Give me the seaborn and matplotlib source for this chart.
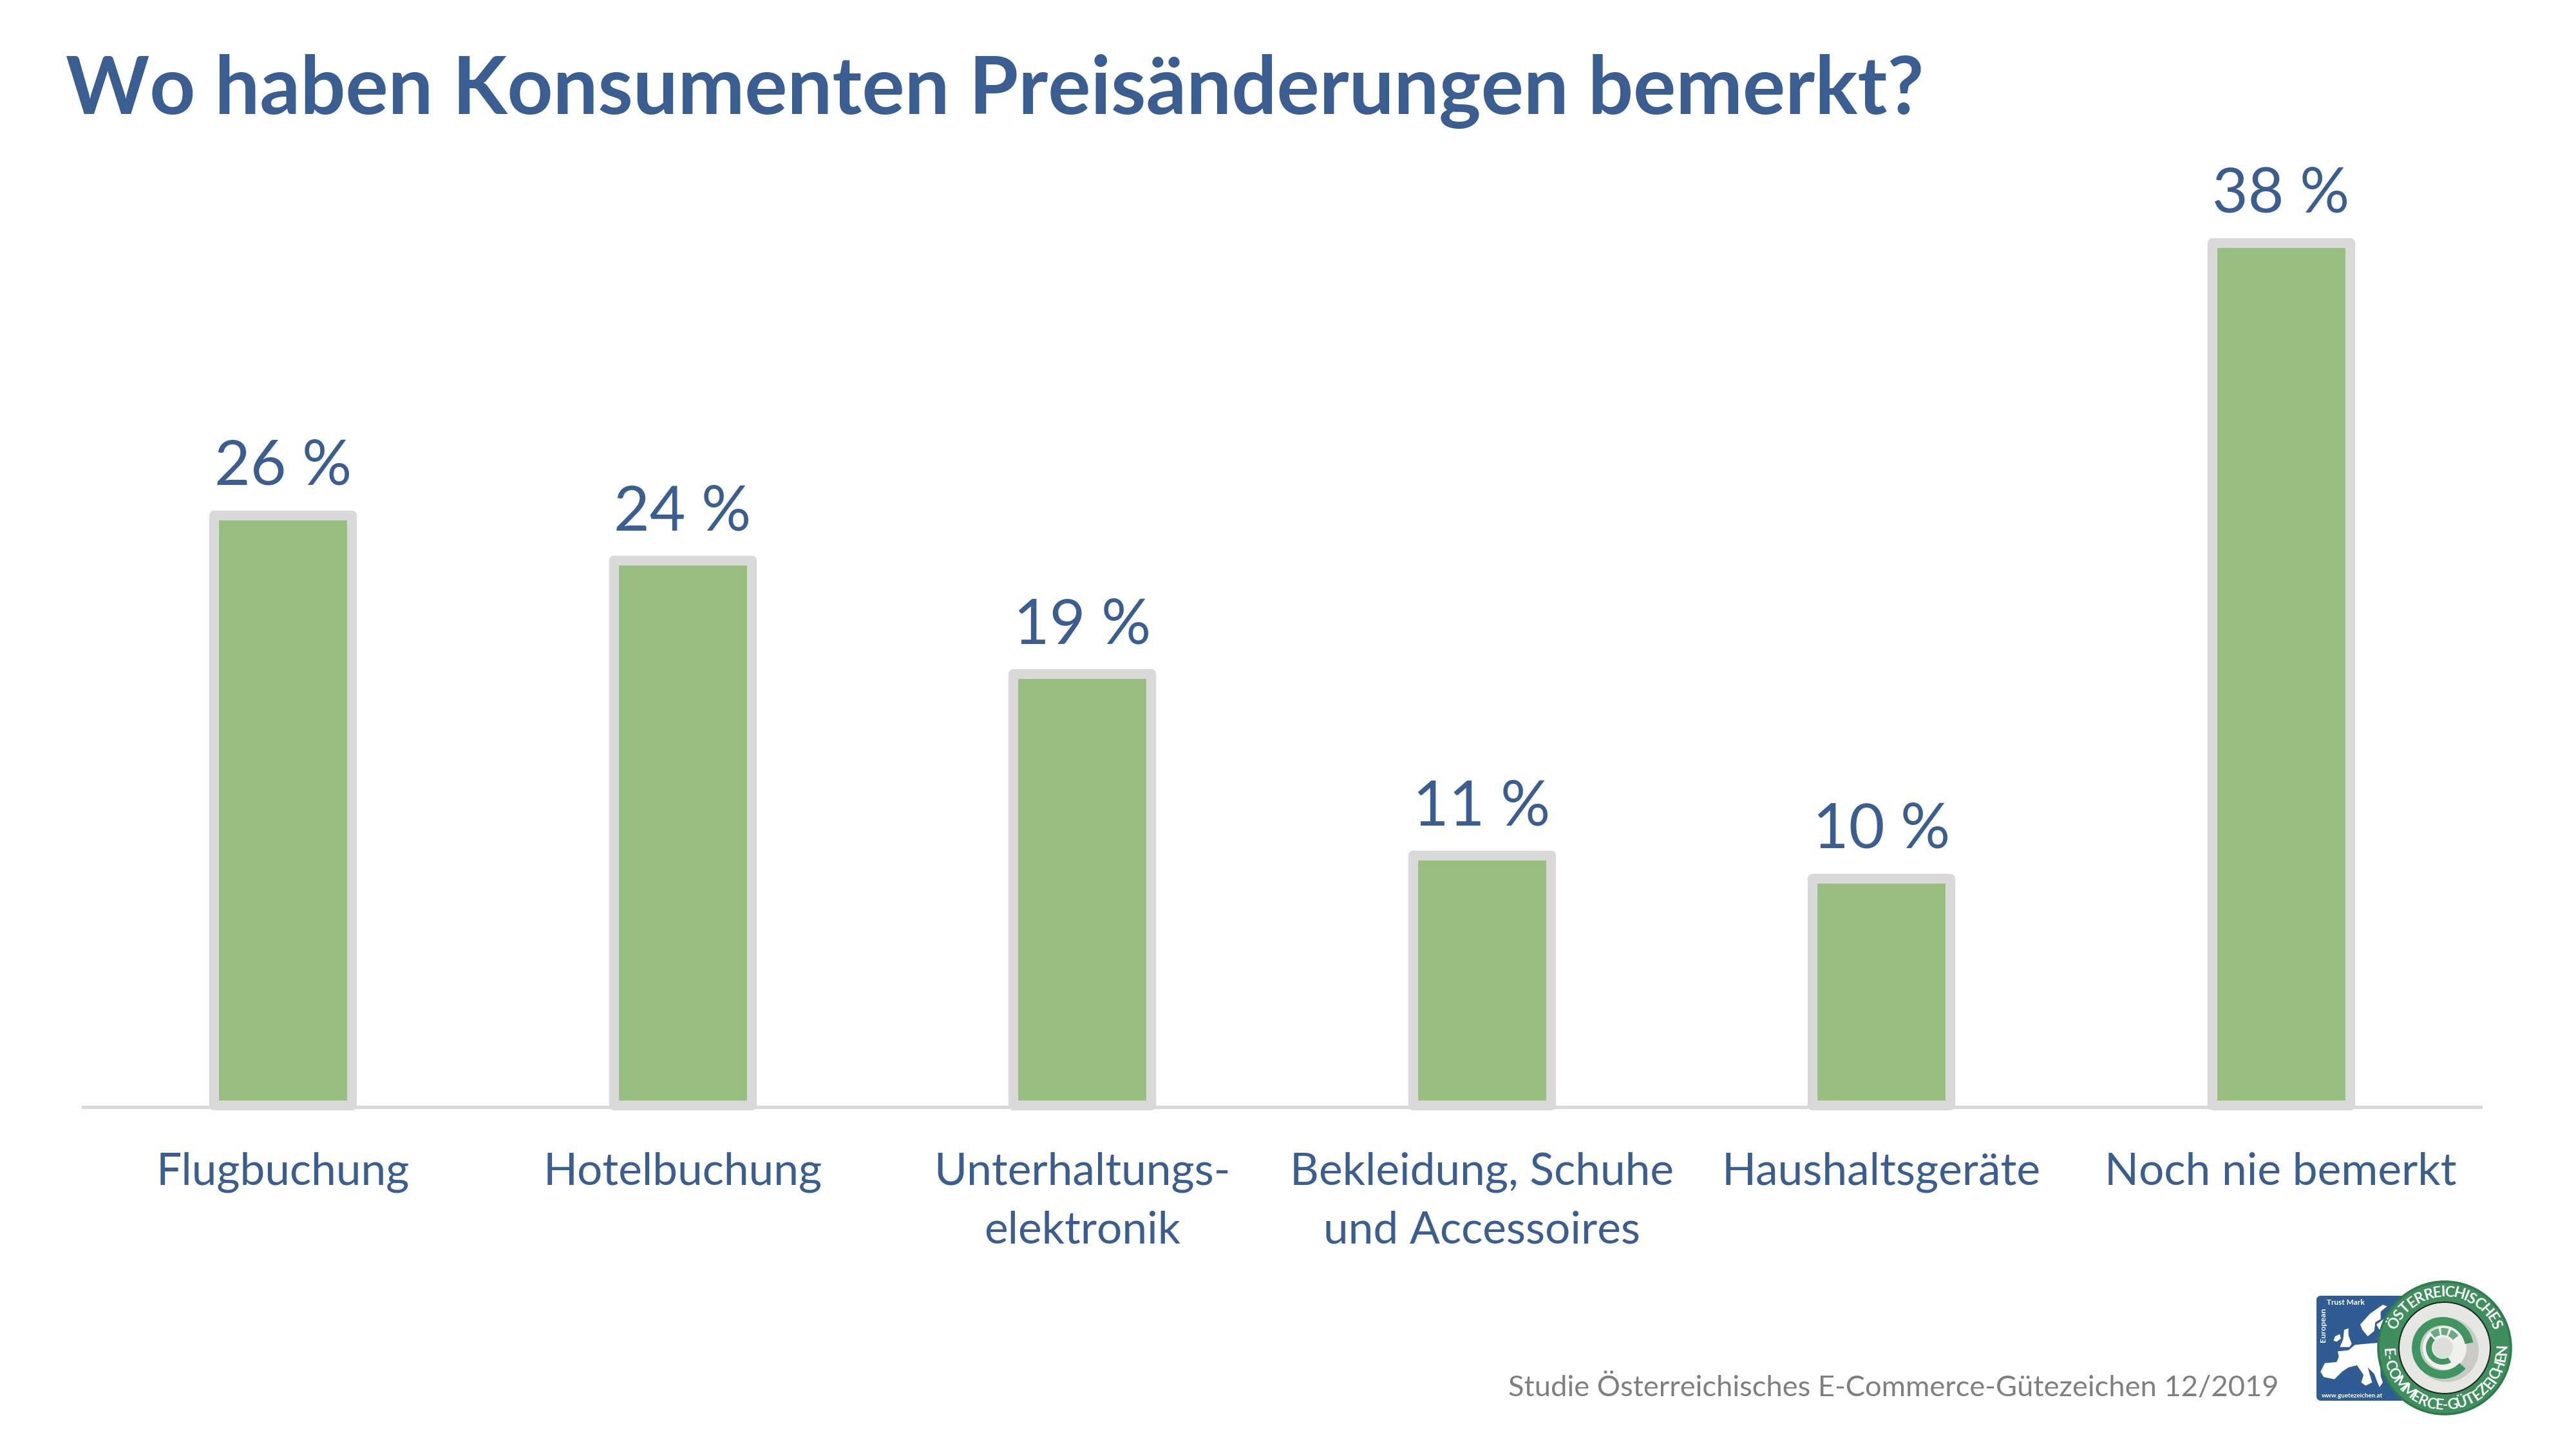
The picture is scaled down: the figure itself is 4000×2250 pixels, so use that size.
import numpy as np
import matplotlib
matplotlib.use("Agg")
import matplotlib.pyplot as plt
from matplotlib.font_manager import FontProperties
from matplotlib.patches import Circle, FancyBboxPatch, Polygon, Wedge
from matplotlib.textpath import TextPath
import seaborn as sns

categories = ["Flugbuchung", "Hotelbuchung", "Unterhaltungs-\nelektronik",
              "Bekleidung, Schuhe\nund Accessoires", "Haushaltsgeräte", "Noch nie bemerkt"]
values = [26, 24, 19, 11, 10, 38]
value_labels = ["26 %", "24 %", "19 %", "11 %", "10 %", "38 %"]
title = "Wo haben Konsumenten Preisänderungen bemerkt?"
source = "Studie Österreichisches E-Commerce-Gütezeichen 12/2019"

BLUE = "#3A5D92"
GREEN = "#97BE7E"
EDGE = "#D9D9D9"
W, H, DPI = 4000, 2250, 250
BASE_Y = 1716

sns.set_style("white")
plt.rcParams["font.family"] = ["Lato", "DejaVu Sans"]

fig = plt.figure(figsize=(W / DPI, H / DPI), dpi=DPI, facecolor="white")
ax = fig.add_axes([129 / W, (H - BASE_Y) / H, 3723 / W, BASE_Y / H])

sns.barplot(x=categories, y=values, ax=ax, color=GREEN, saturation=1, width=0.345,
            edgecolor=EDGE, linewidth=4.4, zorder=3)
for bar in ax.patches:
    bar.set_joinstyle("round")
    bar.set_clip_on(False)

ax.set_xlim(-0.5, 5.5)
ax.set_ylim(0, BASE_Y / 35.25)
ax.set_yticks([])
ax.set_ylabel("")
sns.despine(ax=ax, left=True)
ax.spines["bottom"].set_color(EDGE)
ax.spines["bottom"].set_linewidth(1.5)
ax.spines["bottom"].set_position(("outward", 0.95))
ax.tick_params(axis="x", length=0, pad=19.8, labelsize=20, labelcolor=BLUE)
for tick in ax.get_xticklabels():
    tick.set_linespacing(1.55)

ax.bar_label(ax.containers[0], labels=value_labels, padding=8.5, fontsize=27.7, color=BLUE)

fig.text(102 / W, 1 - 177 / H, title, fontsize=35.7, fontweight="bold", color=BLUE, va="baseline")

# Overlay in pixel coordinates for the source line and the seal
ov = fig.add_axes([0, 0, 1, 1], zorder=5)
ov.set_xlim(0, W)
ov.set_ylim(H, 0)
ov.axis("off")
ov.patch.set_alpha(0)
ov.text(3538, 2168, source, ha="right", va="baseline", fontsize=13.05, color="#7F7F7F")


def seal_xy(points):
    return [(3500 + x / 3, 1950 + y / 3) for x, y in points]


# Blue trust-mark card with a simplified map of Europe
ov.add_patch(FancyBboxPatch((3600, 2015), 140, 157, boxstyle="round,pad=0,rounding_size=4",
                            fc="#2F5C92", ec="#2F5C92", lw=6 * 72 / DPI))
map_shapes = [
    [(310, 540), (330, 500), (385, 495), (395, 470), (390, 445), (440, 440), (470, 415), (520, 410),
     (585, 405), (590, 560), (600, 590), (585, 612), (575, 590), (560, 550), (530, 520), (550, 590),
     (520, 605), (500, 590), (510, 555), (480, 510), (440, 520), (410, 540), (375, 575), (325, 565)],
    [(420, 345), (440, 338), (440, 370), (455, 410), (445, 425), (400, 425), (415, 390)],
    [(378, 375), (400, 365), (405, 385), (385, 400), (370, 395)],
    [(495, 320), (540, 270), (600, 228), (620, 235), (590, 260), (590, 295), (565, 310), (560, 350),
     (530, 375), (505, 345)],
    [(570, 320), (610, 290), (610, 330), (585, 345)],
]
for shape in map_shapes:
    ov.add_patch(Polygon(seal_xy(shape), closed=True, fc="white", ec="none"))
ov.text(3613, 2022, "Trust Mark", fontsize=3.4, fontweight="bold", color="white", va="center")
ov.text(3607, 2030, "European", fontsize=3.6, fontweight="bold", color="white", rotation=90,
        ha="center", va="top")
ov.text(3605, 2168, "www.guetezeichen.at", fontsize=2.85, fontweight="bold", color="white", va="center")

# Green round seal with the stylised @ sign
cx, cy = 3796, 2093
SEAL_GREEN = "#3F9560"
ov.add_patch(Circle((cx, cy), 103, fc="#3E8E5E", ec="#2F7A4E", lw=1))
ov.add_patch(Circle((cx, cy), 71, fc="#E6E6E3", ec="#1C2B22", lw=0.6))
ov.add_patch(Circle((cx + 3, cy + 3), 50, fc="#C9CAC6", ec="none"))
ov.add_patch(Circle((cx, cy), 34, fc="#F0F0EE", ec="none"))
ov.add_patch(Wedge((cx - 3, cy), 48, 42, 350, width=13, fc=SEAL_GREEN, ec="none"))
ov.add_patch(Wedge((cx - 3, cy), 26, 60, 225, width=9, fc=SEAL_GREEN, ec="none"))
for a0, a1 in [(232, 258), (265, 288), (295, 322)]:
    ov.add_patch(Wedge((cx - 3, cy), 31, a0, a1, width=11, fc="#6CA884", ec="none"))
ov.add_patch(Circle((cx - 3, cy), 16, fc="#DDDDD9", ec="none"))

ring_font = FontProperties(family="Lato", weight="bold")
RING_SIZE = 6.6


def ring_text(text, radius, start_deg, end_deg, upper):
    """Set capitals along the seal ring, spaced by their own widths."""
    widths = [TextPath((0, 0), ch, size=RING_SIZE, prop=ring_font).get_extents().width + RING_SIZE * 0.12
              for ch in text]
    edges = np.concatenate([[0], np.cumsum(widths)])
    mids = (edges[:-1] + edges[1:]) / 2 / edges[-1]
    for ch, frac in zip(text, mids):
        deg = start_deg + (end_deg - start_deg) * frac
        rad = np.deg2rad(deg)
        x = cx + radius * np.cos(rad)
        y = cy + radius * np.sin(rad)
        rot = 270 - deg if upper else 90 - deg
        ov.text(x, y, ch, fontproperties=ring_font, fontsize=RING_SIZE, color="white", rotation=rot,
                rotation_mode="anchor", ha="center", va="baseline")


ring_text("ÖSTERREICHISCHES", 80, 200, 340, True)
ring_text("E-COMMERCE-GÜTEZEICHEN", 96, 180, -3, False)

fig.savefig("out.png", dpi=DPI, facecolor="white")
